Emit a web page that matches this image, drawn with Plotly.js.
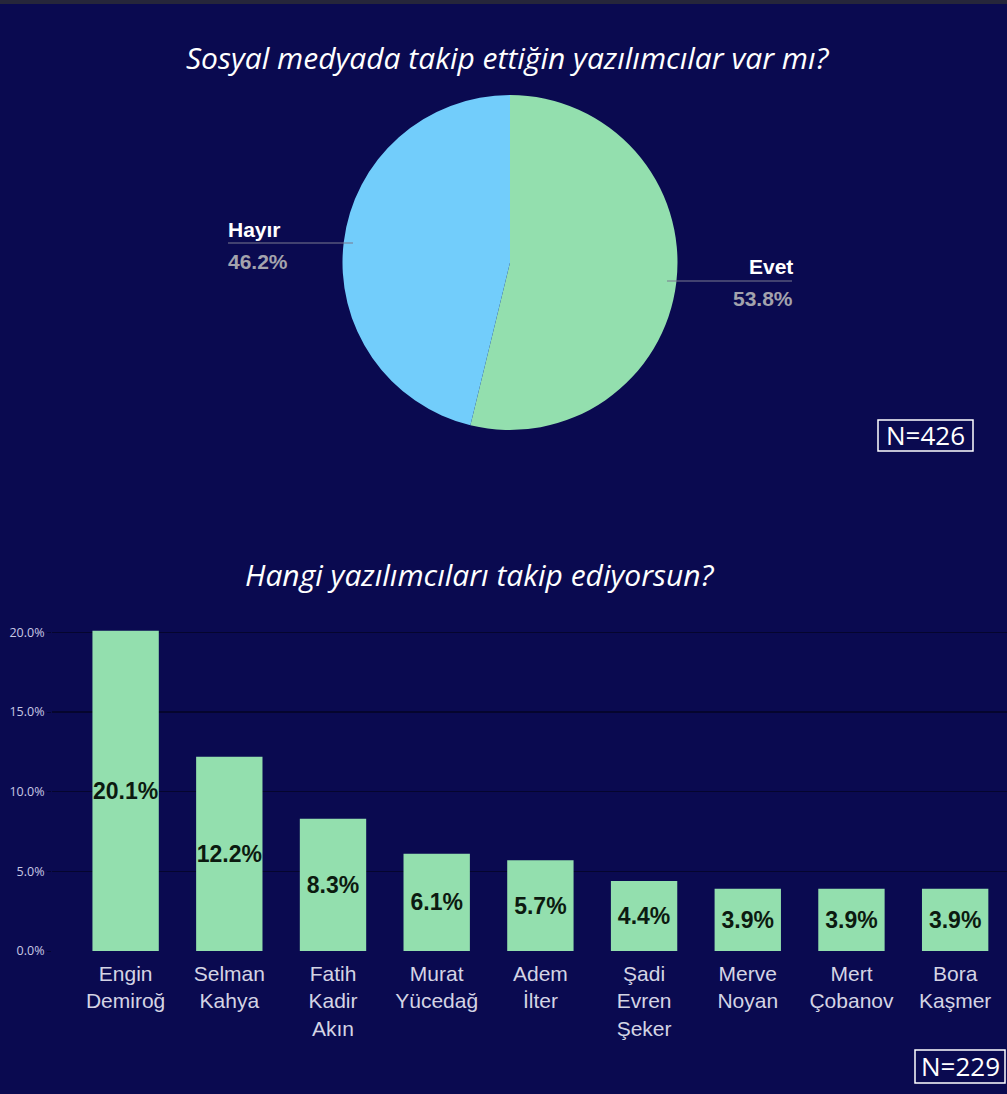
<!DOCTYPE html>
<html><head><meta charset="utf-8">
<script src="https://cdn.plot.ly/plotly-3.0.1.min.js"></script>
<style>html,body{margin:0;padding:0;background:#0a0a50;}#chart{width:1007px;height:1094px;}</style>
</head><body><div id="chart"></div>
<script>
const pieTitle = "Sosyal medyada takip ettiğin yazılımcılar var mı?";
const pieLabels = ["Evet", "Hayır"];
const pieValues = [53.8, 46.2];
const pieN = "N=426";

const barTitle = "Hangi yazılımcıları takip ediyorsun?";
const barCategories = ["Engin<br>Demiroğ", "Selman<br>Kahya", "Fatih<br>Kadir<br>Akın", "Murat<br>Yücedağ", "Adem<br>İlter", "Şadi<br>Evren<br>Şeker", "Merve<br>Noyan", "Mert<br>Çobanov", "Bora<br>Kaşmer"];
const barValues = [20.1, 12.2, 8.3, 6.1, 5.7, 4.4, 3.9, 3.9, 3.9];
const barN = "N=229";

const W = 1007, H = 1094;
const px = x => x / W, py = y => 1 - y / H;
const BG = "#0a0a50", GREEN = "#93dfae", BLUE = "#72cdfb";
const ARIAL = "Liberation Sans, Arial, sans-serif";

const pie = {
  type: "pie", labels: pieLabels, values: pieValues, sort: false,
  direction: "clockwise", rotation: 0,
  marker: {colors: [GREEN, BLUE], line: {width: 0}},
  textinfo: "none", hoverinfo: "label+percent", showlegend: false,
  domain: {x: [px(342), px(678)], y: [py(430), py(95)]}
};

const bar = {
  type: "bar", x: barCategories, y: barValues,
  marker: {color: GREEN, line: {width: 0}},
  width: 0.64,
  text: barValues.map(v => v.toFixed(1) + "%"),
  textposition: "inside", insidetextanchor: "middle", constraintext: "none",
  textangle: 0,
  textfont: {family: ARIAL, size: 23, color: "#0c1a10", weight: "bold"},
  cliponaxis: false, showlegend: false
};

const total = pieValues.reduce((a, b) => a + b, 0);
const pct = v => (100 * v / total).toFixed(1) + "%";
const labFont = {family: ARIAL, size: 21, color: "#ffffff", weight: "bold"};
const pctFont = {family: ARIAL, size: 21, color: "#a3a3ad", weight: "bold"};
const nFont = {family: "Open Sans, sans-serif", size: 26, color: "#ffffff", weight: 400};

const annotations = [
  {text: pieTitle, x: px(508), y: py(58), xref: "paper", yref: "paper", showarrow: false,
   font: {family: "Open Sans, sans-serif", size: 30, color: "#ffffff", style: "italic"}, xanchor: "center", yanchor: "middle"},
  {text: barTitle, x: px(480), y: py(574), xref: "paper", yref: "paper", showarrow: false,
   font: {family: "Open Sans, sans-serif", size: 30, color: "#ffffff", style: "italic"}, xanchor: "center", yanchor: "middle"},
  {text: pieLabels[1], x: px(226), y: py(229), xref: "paper", yref: "paper", showarrow: false, font: labFont, xanchor: "left", yanchor: "middle"},
  {text: pct(pieValues[1]), x: px(226), y: py(261), xref: "paper", yref: "paper", showarrow: false, font: pctFont, xanchor: "left", yanchor: "middle"},
  {text: pieLabels[0], x: px(795), y: py(266), xref: "paper", yref: "paper", showarrow: false, font: labFont, xanchor: "right", yanchor: "middle"},
  {text: pct(pieValues[0]), x: px(795), y: py(298), xref: "paper", yref: "paper", showarrow: false, font: pctFont, xanchor: "right", yanchor: "middle"},
  {text: pieN, x: px(925.5), y: py(435), xref: "paper", yref: "paper", showarrow: false, font: nFont, xanchor: "center", yanchor: "middle"},
  {text: barN, x: px(960), y: py(1066), xref: "paper", yref: "paper", showarrow: false, font: nFont, xanchor: "center", yanchor: "middle"}
];

const shapes = [
  {type: "rect", xref: "paper", yref: "paper", x0: 0, x1: 1, y0: py(4), y1: 1, fillcolor: "#26263a", line: {width: 0}, layer: "above"},
  {type: "line", xref: "paper", yref: "paper", x0: px(228), x1: px(353), y0: py(243), y1: py(243), line: {color: "#7a7a90", width: 1.2}},
  {type: "line", xref: "paper", yref: "paper", x0: px(667), x1: px(792), y0: py(281), y1: py(281), line: {color: "#7a7a90", width: 1.2}},
  {type: "rect", xref: "paper", yref: "paper", x0: px(878), x1: px(973), y0: py(451), y1: py(420), line: {color: "#ffffff", width: 1.5}},
  {type: "rect", xref: "paper", yref: "paper", x0: px(915), x1: px(1005), y0: py(1083), y1: py(1050), line: {color: "#ffffff", width: 1.5}}
];

const layout = {
  width: W, height: H, margin: {l: 0, r: 0, t: 0, b: 0},
  paper_bgcolor: BG, plot_bgcolor: BG,
  xaxis: {domain: [px(52), 1], range: [-0.71, 8.5], showgrid: false, zeroline: false, showline: false,
    tickfont: {family: ARIAL, size: 21, color: "#d4d4e4"}, ticks: "", ticklabelstandoff: 8, fixedrange: true, automargin: false},
  yaxis: {domain: [py(951), py(630)], range: [0, 20.15], tickvals: [0, 5, 10, 15, 20],
    ticktext: [0, 5, 10, 15, 20].map(v => v.toFixed(1) + "%"),
    showgrid: true, gridcolor: "#05052e", gridwidth: 1.5, zeroline: false, showline: false,
    tickfont: {family: "Open Sans, sans-serif", size: 12.5, color: "#c8c8e4"}, ticks: "outside", ticklen: 4, tickcolor: "#05052e", automargin: false},
  annotations: annotations, shapes: shapes, bargap: 0.36
};

Plotly.newPlot("chart", [pie, bar], layout, {displayModeBar: false, staticPlot: true});
</script></body></html>
